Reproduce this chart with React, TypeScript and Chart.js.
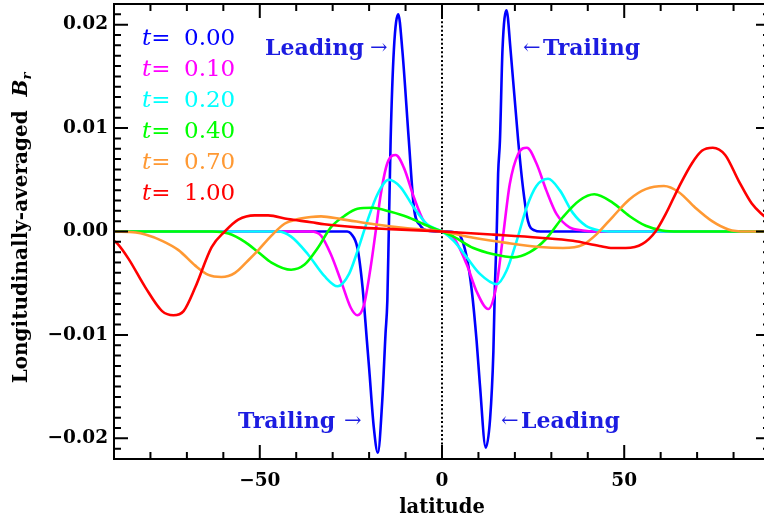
import React, { useEffect, useRef } from "react";
import { Chart, registerables } from "chart.js";

Chart.register(...registerables);

// ---- data ----
const LAT_T000 = [-90, -26, -25, -23.2, -21.8, -20.6, -20.0, -18.7, -17.6, -16.4, -15.5, -15.0, -14.6, -14.1, -13.2, -12.0, -10.9, -9.1, -7.7, -5.9, -4.1, 0, 4.0, 5.0, 6.8, 8.2, 9.5, 10.4, 12.0, 13.2, 14.1, 14.5, 15.0, 15.4, 15.9, 16.6, 17.7, 18.8, 20.9, 22.3, 23.6, 25.4, 27, 90];
const VAL_T000 = [0, 0, -0.0002, -0.0016, -0.0054, -0.0106, -0.0132, -0.019, -0.0214, -0.0164, -0.0099, -0.0067, 0.0, 0.0088, 0.0176, 0.021, 0.0176, 0.0088, 0.0023, 0.00055, 0.0001, 0, -0.0001, -0.0004, -0.0025, -0.0058, -0.0106, -0.0148, -0.0209, -0.0181, -0.0116, -0.0055, -0.0003, 0.0056, 0.0088, 0.0176, 0.0214, 0.0176, 0.0088, 0.004, 0.001, 0.0001, 0, 0];

const LAT_T010 = [-90, -36, -33.2, -30.5, -27.7, -25.0, -23.2, -21.4, -19.6, -18.2, -16.8, -15.0, -12.7, -10.5, -7.7, -5.0, -2.3, 0, 3.2, 6.8, 9.5, 12.7, 15.0, 16.8, 18.6, 20.9, 23.3, 25.9, 28.6, 31.4, 35.0, 38.6, 42, 90];
const VAL_T010 = [0, 0, -0.0004, -0.0022, -0.0048, -0.0074, -0.0081, -0.0071, -0.0035, 0, 0.0036, 0.0066, 0.0074, 0.0062, 0.0033, 0.001, 0.0002, 0, -0.0006, -0.0032, -0.0058, -0.0075, -0.0051, -0.0003, 0.0046, 0.0075, 0.0081, 0.0066, 0.004, 0.0017, 0.0004, 0.0001, 0, 0];

const LAT_T020 = [-90, -45, -41.4, -36.8, -32.3, -28.6, -25.5, -23.2, -20.5, -17.7, -14.6, -11.4, -7.7, -4.1, 0, 3.2, 6.8, 10.4, 15.0, 17.7, 20.5, 23.2, 25.9, 29.1, 32.3, 35.9, 39.5, 43.2, 47, 90];
const VAL_T020 = [0, 0, -0.0005, -0.0022, -0.0043, -0.0053, -0.0041, -0.0019, 0.001, 0.0036, 0.005, 0.0043, 0.0023, 0.0007, 0, -0.0009, -0.0025, -0.0041, -0.0051, -0.0038, -0.0009, 0.0023, 0.0044, 0.0051, 0.004, 0.0018, 0.00055, 0.0001, 0, 0];

const LAT_T040 = [-90, -63, -58.6, -54.1, -50.4, -46.8, -41.4, -37.7, -34.1, -30.5, -26.8, -23.2, -19.1, -14.1, -9.5, -5.0, 0, 3.2, 8.6, 14.1, 19.5, 24.1, 28.6, 33.2, 37.7, 41.8, 46.8, 51.4, 55.9, 60.4, 65, 90];
const VAL_T040 = [0, 0, -0.0002, -0.001, -0.002, -0.003, -0.0037, -0.0032, -0.0016, 0.0004, 0.0015, 0.0022, 0.0023, 0.0019, 0.0014, 0.0007, 0, -0.0005, -0.0016, -0.0022, -0.0025, -0.002, -0.0007, 0.0014, 0.003, 0.0036, 0.0028, 0.0015, 0.00055, 0.0001, 0, 0];

const LAT_T070 = [-90, -84, -81.4, -76.8, -72.3, -67.7, -64.1, -60.5, -56.8, -53.2, -50.4, -46.8, -43.2, -39.5, -36.0, -33.2, -27.7, -18.6, -9.5, 0, 8.6, 17.7, 26.8, 33.2, 38.6, 42.3, 46.8, 51.4, 55.9, 60.9, 65.0, 69.5, 74.1, 78.6, 83.2, 90];
const VAL_T070 = [0, -0.0001, -0.0003, -0.0009, -0.0018, -0.0033, -0.0042, -0.0044, -0.004, -0.0028, -0.0018, -0.0004, 0.00075, 0.0012, 0.0014, 0.00146, 0.0012, 0.0007, 0.0003, 0, -0.0006, -0.0011, -0.0015, -0.0016, -0.0013, -0.0003, 0.0014, 0.0031, 0.0041, 0.0044, 0.0038, 0.0023, 0.001, 0.0002, 0, 0];

const LAT_T100 = [-90, -89.0, -86, -81.4, -76.8, -73.7, -70.9, -67.7, -63.2, -59.6, -55.9, -51.4, -47.7, -42.3, -35.9, -32.3, -23.2, -14.1, 0, 14.1, 26.8, 35.9, 43.2, 46.8, 50.4, 55.0, 58.6, 61.4, 65.0, 68.6, 71.3, 74.3, 77.7, 81.4, 85.0, 87.7, 90];
const VAL_T100 = [-0.0009, -0.0012, -0.00265, -0.0054, -0.0077, -0.0081, -0.0077, -0.0054, -0.0015, 0, 0.00114, 0.00156, 0.00156, 0.0012, 0.0009, 0.0007, 0.0004, 0.00023, 0, -0.0003, -0.0006, -0.0009, -0.0014, -0.0016, -0.0016, -0.0012, 0, 0.0017, 0.0043, 0.0066, 0.0078, 0.0081, 0.0074, 0.0049, 0.0027, 0.0017, 0.0011];

const SERIES_LATS = [LAT_T000, LAT_T010, LAT_T020, LAT_T040, LAT_T070, LAT_T100];
const SERIES_VALS = [VAL_T000, VAL_T010, VAL_T020, VAL_T040, VAL_T070, VAL_T100];
const SERIES_LABELS = ["0.00", "0.10", "0.20", "0.40", "0.70", "1.00"];
const SERIES_COLORS = ["#0000ff", "#ff00ff", "#00ffff", "#00ff00", "#ff9933", "#ff0000"];

const X_TICKS = [-50, 0, 50];
const Y_TICKS = [-0.02, -0.01, 0, 0.01, 0.02];
const X_MIN = -90, X_MAX = 90;
const Y_MIN = -0.022, Y_MAX = 0.022;

const X_TITLE = "latitude";
const Y_TITLE = "Longitudinally-averaged  ";
const NOTE_BLUE = "rgb(28,28,225)";

const SERIF = "'DejaVu Serif', serif";

const fmt = (v: number, d: number) =>
  (v < -1e-12 ? "\u2212" : "") + Math.abs(v).toFixed(d);

const decor = {
  id: "decor",
  beforeDatasetsDraw(chart: any) {
    const { ctx, chartArea: a, scales } = chart;
    const x0 = scales.x.getPixelForValue(0);
    ctx.save();
    ctx.strokeStyle = "#000";
    ctx.lineWidth = 2;
    ctx.setLineDash([2, 2.3]);
    ctx.beginPath();
    ctx.moveTo(x0, a.top);
    ctx.lineTo(x0, a.bottom);
    ctx.stroke();
    ctx.restore();
  },
  afterDraw(chart: any) {
    const { ctx, chartArea: a, scales } = chart;
    const xs = scales.x, ys = scales.y;
    ctx.save();
    ctx.strokeStyle = "#000";
    ctx.lineWidth = 2;
    ctx.strokeRect(a.left, a.top, a.right - a.left, a.bottom - a.top);
    ctx.beginPath();
    for (let v = X_MIN; v <= X_MAX; v += 10) {
      const px = xs.getPixelForValue(v);
      const len = X_TICKS.includes(v) ? 14 : 7;
      ctx.moveTo(px, a.bottom);
      ctx.lineTo(px, a.bottom - len);
      ctx.moveTo(px, a.top);
      ctx.lineTo(px, a.top + len);
    }
    for (let i = -22; i <= 22; i++) {
      const py = ys.getPixelForValue(i / 1000);
      const len = i % 10 === 0 ? 14 : 7;
      ctx.moveTo(a.left, py);
      ctx.lineTo(a.left + len, py);
      ctx.moveTo(a.right, py);
      ctx.lineTo(a.right - len, py);
    }
    ctx.stroke();

    // legend (coloured text)
    ctx.textBaseline = "alphabetic";
    ctx.textAlign = "left";
    SERIES_LABELS.forEach((lab, i) => {
      const by = 45 + 31 * i;
      ctx.fillStyle = SERIES_COLORS[i];
      ctx.font = `italic 23px ${SERIF}`;
      ctx.fillText("t", 142, by);
      const tw = ctx.measureText("t").width;
      ctx.font = `23px ${SERIF}`;
      ctx.fillText("=", 142 + tw, by);
      ctx.fillText(lab, 184, by);
    });

    // annotations
    ctx.fillStyle = NOTE_BLUE;
    const word = (s: string, x: number, y: number) => {
      ctx.font = `bold 22px ${SERIF}`;
      ctx.fillText(s, x, y);
    };
    const arrow = (s: string, x: number, y: number) => {
      ctx.font = `21px ${SERIF}`;
      ctx.fillText(s, x, y);
    };
    word("Leading", 265, 55);
    arrow("\u2192", 370, 54);
    arrow("\u2190", 523, 54);
    word("Trailing", 543, 55);
    word("Trailing", 238, 428);
    arrow("\u2192", 344, 427);
    arrow("\u2190", 501, 427);
    word("Leading", 521, 428);

    // axis titles
    ctx.fillStyle = "#000";
    ctx.font = `bold 19.5px ${SERIF}`;
    ctx.textAlign = "center";
    ctx.fillText(X_TITLE, xs.getPixelForValue(0), 513);

    ctx.save();
    ctx.translate(27, 228);
    ctx.rotate(-Math.PI / 2);
    ctx.textAlign = "left";
    ctx.font = `bold 20px ${SERIF}`;
    const w1 = ctx.measureText(Y_TITLE).width;
    ctx.font = `italic bold 20px ${SERIF}`;
    const w2 = ctx.measureText("B").width;
    ctx.font = `italic bold 13px ${SERIF}`;
    const w3 = ctx.measureText("r").width;
    const start = -(w1 + w2 + w3) / 2;
    ctx.font = `bold 20px ${SERIF}`;
    ctx.fillText(Y_TITLE, start, 0);
    ctx.font = `italic bold 20px ${SERIF}`;
    ctx.fillText("B", start + w1, 0);
    ctx.font = `italic bold 13px ${SERIF}`;
    ctx.fillText("r", start + w1 + w2, 4);
    ctx.restore();

    ctx.restore();
  },
};

export default function App() {
  const ref = useRef<HTMLCanvasElement | null>(null);

  useEffect(() => {
    if (!ref.current) return;
    const n = SERIES_LABELS.length;
    const datasets = SERIES_LABELS.map((lab, i) => ({
      label: "t= " + lab,
      data: SERIES_LATS[i].map((x, j) => ({ x, y: SERIES_VALS[i][j] })),
      borderColor: SERIES_COLORS[i],
      backgroundColor: SERIES_COLORS[i],
      borderWidth: 2.6,
      pointRadius: 0,
      fill: false,
      order: n - i,
      cubicInterpolationMode: "monotone" as const,
    }));
    const tickFont = { family: SERIF, size: 18.5, weight: "bold" as const };
    const chart = new Chart(ref.current, {
      type: "line",
      data: { datasets },
      options: {
        animation: false,
        responsive: false,
        devicePixelRatio: 1,
        layout: { padding: { left: 0, top: 4, right: 10, bottom: 0 } },
        plugins: {
          legend: { display: false },
          tooltip: { enabled: false },
          title: { display: false },
        },
        scales: {
          x: {
            type: "linear",
            min: X_MIN,
            max: X_MAX,
            afterBuildTicks: (s: any) => {
              s.ticks = X_TICKS.map((v) => ({ value: v }));
            },
            afterFit: (s: any) => {
              s.height = 61;
              s.paddingLeft = 0;
              s.paddingRight = 0;
            },
            grid: { display: false, drawTicks: false },
            border: { display: false },
            ticks: {
              font: tickFont,
              color: "#000",
              padding: 11,
              maxRotation: 0,
              autoSkip: false,
              callback: (v: any) => fmt(Number(v), 0),
            },
          },
          y: {
            type: "linear",
            min: Y_MIN,
            max: Y_MAX,
            afterBuildTicks: (s: any) => {
              s.ticks = Y_TICKS.map((v) => ({ value: v }));
            },
            afterFit: (s: any) => {
              s.width = 114;
              s.paddingTop = 0;
              s.paddingBottom = 0;
            },
            grid: { display: false, drawTicks: false },
            border: { display: false },
            ticks: {
              font: tickFont,
              color: "#000",
              padding: 6,
              autoSkip: false,
              callback: (v: any) => fmt(Number(v), 2),
            },
          },
        },
      },
      plugins: [decor],
    });
    return () => chart.destroy();
  }, []);

  return (
    <div
      style={{
        position: "fixed",
        left: 0,
        top: 0,
        width: 764,
        height: 520,
        overflow: "hidden",
        background: "#fff",
      }}
    >
      <canvas ref={ref} width={780} height={520} style={{ width: 780, height: 520, display: "block" }} />
    </div>
  );
}
